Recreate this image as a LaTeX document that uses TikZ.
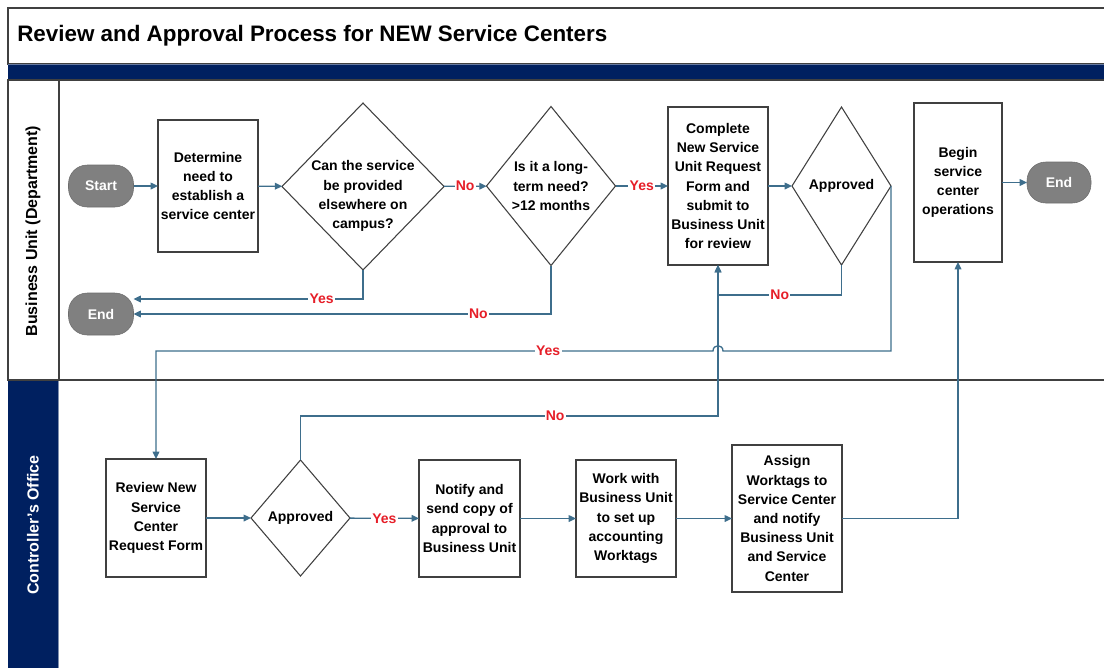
\documentclass[tikz,border=0pt]{standalone}
\usepackage{fontspec}
\setmainfont{Liberation Sans}
\usetikzlibrary{shapes.geometric,arrows.meta,calc}
\definecolor{navy}{RGB}{0,32,96}
\definecolor{connc}{RGB}{62,110,140}
\definecolor{boxline}{RGB}{64,64,64}
\definecolor{pillc}{RGB}{128,128,128}
\definecolor{lblred}{RGB}{230,30,40}
\begin{document}
\begin{tikzpicture}[x=0.75pt,y=-0.75pt,
  every node/.style={font=\bfseries\fontsize{10.5}{14.4}\selectfont},
  procbox/.style={draw=boxline, line width=1.1pt, fill=white, inner sep=0pt, outer sep=0pt, align=center},
  decision/.style={diamond, draw=boxline, line width=0.8pt, fill=white, inner sep=0pt, outer sep=0pt},
  dtext/.style={align=center, inner sep=0pt},
  terminal/.style={rectangle, rounded corners=14pt, fill=pillc, draw=pillc!85!black, text=white, inner sep=0pt, outer sep=0pt},
  flow/.style={draw=connc, line width=1pt, -{Triangle[length=5.5pt,width=5pt]}},
  yn/.style={text=lblred, fill=white, inner sep=1pt},
  lanetext/.style={font=\bfseries\fontsize{12}{14}\selectfont, rotate=90}
]
\useasboundingbox (0,0) rectangle (1104,668);
\begin{scope}
\clip (0,0) rectangle (1104,668);
% title box
\draw[boxline, line width=0.8pt, fill=white] (8,8) rectangle (1120,64);
\fill[navy] (8,64) rectangle (1120,80);
\draw[navy!60!white, line width=0.6pt] (8,64) -- (1120,64) (8,80) -- (1120,80);
% lane 1
\draw[boxline, line width=0.8pt] (8,80) rectangle (1120,380);
\draw[boxline, line width=0.8pt] (59,80) -- (59,380);
% lane 2
\fill[navy] (8,380) rectangle (58,680);
\draw[navy!50!white, line width=0.6pt] (58.5,380) -- (58.5,680);
\draw[boxline, line width=1pt] (8,380) -- (1120,380);
\end{scope}

\node[anchor=west, inner sep=0pt, font=\bfseries\fontsize{16.8}{20}\selectfont] (title) at (17,36) {Review and Approval Process for NEW Service Centers};
\node[lanetext] (lane1) at (33,231) {Business Unit (Department)};
\node[lanetext, text=white] (lane2) at (33,525) {Controller's Office};

% lane 1 nodes
\node[terminal, minimum width=48.75pt, minimum height=31.5pt] (start) at (101,186) {Start};
\node[procbox, minimum width=75pt, minimum height=99pt] (det) at (208,186) {Determine\\need to\\establish a\\service center};
\node[decision, minimum width=121.5pt, minimum height=125.25pt] (d1) at (363,186.5) {};
\node[dtext] (d1t) at (363,196) {Can the service\\be provided\\elsewhere on\\campus?};
\node[decision, minimum width=96.75pt, minimum height=119.25pt] (d2) at (551,186) {};
\node[dtext] (d2t) at (551,186) {Is it a long-\\term need?\\>12 months};
\node[procbox, minimum width=75pt, minimum height=118.5pt] (comp) at (718,186) {Complete\\New Service\\Unit Request\\Form and\\submit to\\Business Unit\\for review};
\node[decision, minimum width=74.25pt, minimum height=118.5pt] (app1) at (841.5,186) {};
\node[dtext] (app1t) at (841.5,186) {Approved};
\node[procbox, minimum width=66pt, minimum height=119.25pt] (begin) at (958,182.5) {Begin\\service\\center\\operations};
\node[terminal, minimum width=48pt, minimum height=30.75pt] (end2) at (1059,182.5) {End};
\node[terminal, minimum width=48.75pt, minimum height=31.5pt] (end1) at (101,314) {End};

% lane 2 nodes
\node[procbox, minimum width=75pt, minimum height=88.5pt] (rev) at (156,518) {Review New\\Service\\Center\\Request Form};
\node[decision, minimum width=74.25pt, minimum height=87pt] (app2) at (300.5,518) {};
\node[dtext] (app2t) at (300.5,518) {Approved};
\node[procbox, minimum width=75.75pt, minimum height=87.75pt] (notify) at (469.5,518.5) {Notify and\\send copy of\\approval to\\Business Unit};
\node[procbox, minimum width=75pt, minimum height=87.75pt] (work) at (626,518.5) {Work with\\Business Unit\\to set up\\accounting\\Worktags};
\node[procbox, minimum width=82.5pt, minimum height=110.25pt] (assign) at (787,518.5) {Assign\\Worktags to\\Service Center\\and notify\\Business Unit\\and Service\\Center};

% connectors lane 1
\draw[flow] (start) -- (det);
\draw[flow] (det) -- (d1);
\draw[flow] (d1) -- node[yn]{No} (d2);
\draw[flow] (d2) -- node[yn]{Yes} (comp);
\draw[flow] (comp) -- (app1);
\draw[flow] (begin) -- (end2);
\draw[flow] (d1.south) |- node[yn, pos=0.59]{Yes} ($(end1.east)+(0,-15)$);
\draw[flow] (d2.south) |- node[yn, pos=0.587]{No} (end1.east);
\draw[flow] (app1.south) -- ++(0,30) -| node[yn, pos=0.25]{No} (comp.south);

% Yes from app1 to review, with bridge
\coordinate (yr) at ($(comp.south |- 0,351)+(5,0)$);
\coordinate (yl) at ($(comp.south |- 0,351)+(-5,0)$);
\draw[flow] (app1.east) -- ($(app1.east)+(0,165)$) -- (yr)
  .. controls ($(yr)+(0,-7)$) and ($(yl)+(0,-7)$) .. (yl)
  -| node[yn, pos=0.148]{Yes} (rev.north);

% lane 2 connectors
\draw[flow] (app2.north) -- ++(0,-44) -| node[yn, pos=0.305]{No} (comp.south);
\draw[flow] (rev) -- (app2);
\draw[flow] (app2) -- node[yn]{Yes} (notify);
\draw[flow] (notify) -- (work);
\draw[flow] (work) -- (assign);
\draw[flow] (assign.east) -| (begin.south);
\end{tikzpicture}
\end{document}
